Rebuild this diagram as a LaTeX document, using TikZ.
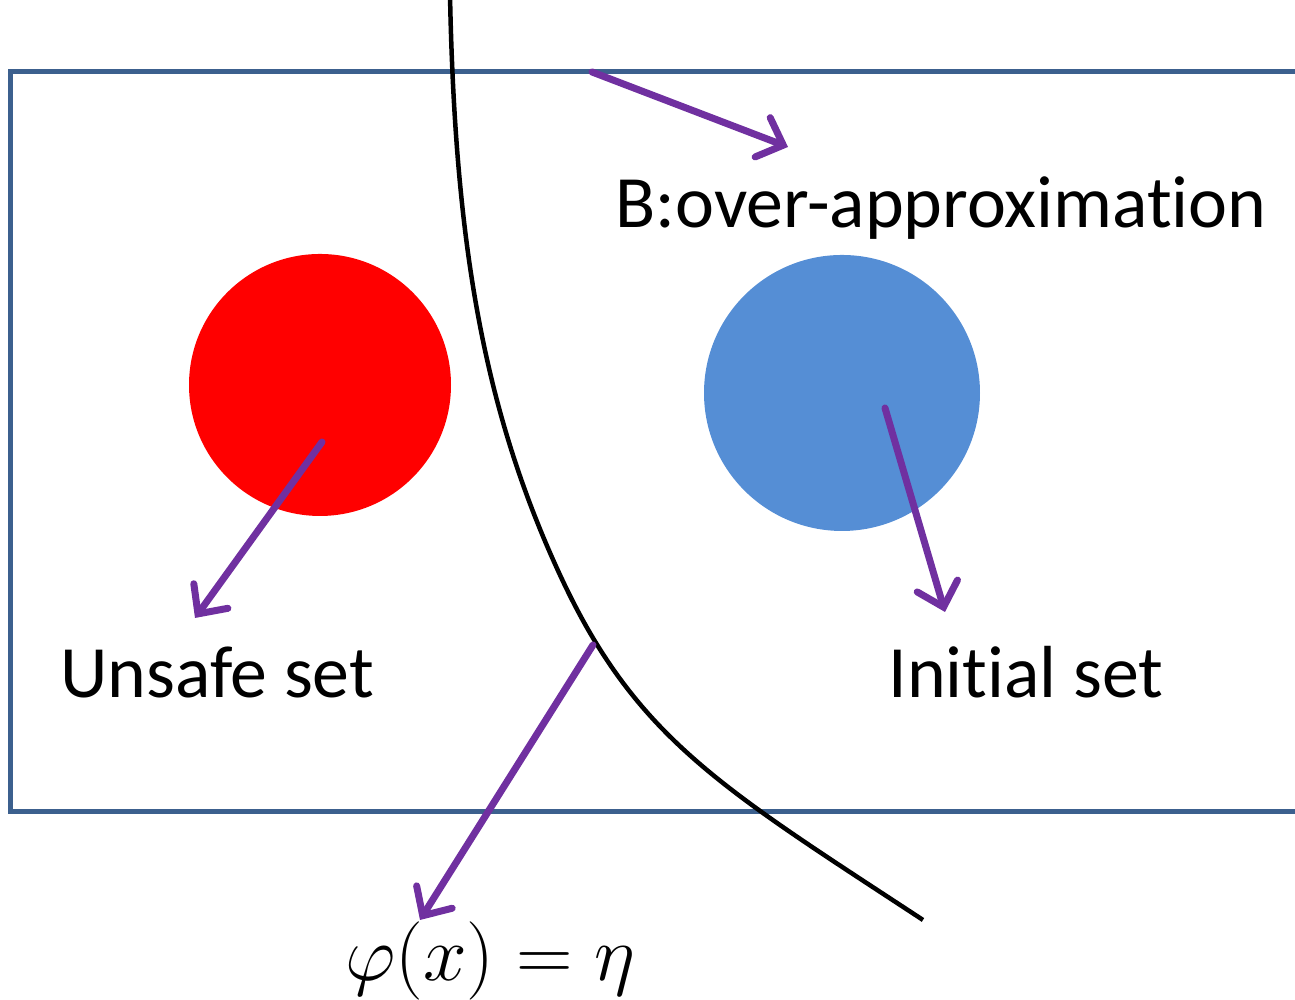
\documentclass[tikz,border=0pt]{standalone}
\usepackage{amsmath}
\usepackage{graphicx}
\usepackage{fontspec}
\setmainfont{Carlito}[Ligatures=NoCommon]
\usepackage{tikz}
\usetikzlibrary{arrows.meta}
\definecolor{boxblue}{RGB}{60, 96, 142}
\definecolor{pointerpurple}{RGB}{112, 48, 160}
\definecolor{initblue}{RGB}{85, 142, 213}
\definecolor{unsafered}{RGB}{255, 0, 0}

\tikzset{
    pointer/.style={pointerpurple, line width=0.07cm, line cap=round,
        -{Straight Barb[length=0.22cm, width=0.42cm, line cap=round]}},
    settext/.style={font=\fontsize{21}{25}\selectfont, anchor=base, inner sep=0pt}
}

\begin{document}
\begin{tikzpicture}
    \useasboundingbox (0,0) rectangle (12.95,10);

    % Box B (runs off the right edge)
    \draw[boxblue, line width=0.05cm] (13.2,9.28) -- (0.10,9.28) -- (0.10,1.88) -- (13.2,1.88);

    % Sets
    \node[circle, fill=unsafered, minimum size=2.62cm, inner sep=0pt] (unsafe) at (3.20,6.15) {};
    \node[circle, fill=initblue, minimum size=2.76cm, inner sep=0pt] (init) at (8.42,6.07) {};

    % Level set curve
    \draw[black, line width=0.045cm] (4.50,10.05) .. controls (4.55,7.55) and (4.84,5.89) .. (5.60,4.25)
        .. controls (6.36,2.61) and (7.22,2.12) .. (9.23,0.80);

    % Labels
    \node[settext] (blabel) at (9.41,7.72) {B:over-approximation};
    \node[settext] (ulabel) at (2.17,3.02) {Unsafe set};
    \node[settext] (ilabel) at (10.26,3.02) {Initial set};
    \node[font=\fontsize{20.74}{25}\selectfont, anchor=base, inner sep=0pt] (phi) at (4.90,0.19) {\scalebox{1.075}{$\varphi(x) = \eta$}};

    % Pointer ends
    \coordinate (bstart) at (5.92,9.28);
    \coordinate (btip) at (7.88,8.53);
    \coordinate (ustart) at (3.22,5.58);
    \coordinate (utip) at (1.95,3.82);
    \coordinate (istart) at (8.85,5.92);
    \coordinate (itip) at (9.45,3.88);
    \coordinate (cstart) at (5.93,3.55);
    \coordinate (ctip) at (4.20,0.80);

    % Pointers
    \draw[pointer] (bstart) -- (btip);
    \draw[pointer] (ustart) -- (utip);
    \draw[pointer] (istart) -- (itip);
    \draw[pointer] (cstart) -- (ctip);
\end{tikzpicture}
\end{document}
